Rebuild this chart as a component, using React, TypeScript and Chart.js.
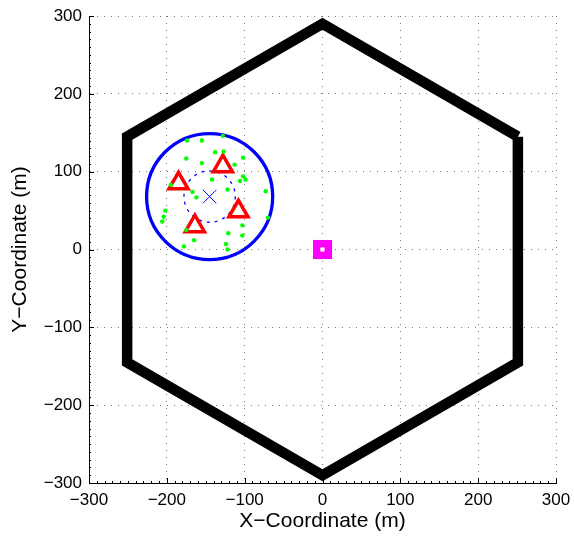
import React, { useEffect, useRef } from "react";
import { Chart, registerables } from "chart.js";

Chart.register(...registerables);

// ---- data ----
const xTickValues = [-300, -200, -100, 0, 100, 200, 300];
const yTickValues = [-300, -200, -100, 0, 100, 200, 300];

const hexagonX = [251, 0, -251, -251, 0, 251, 251];
const hexagonY = [145, 290, 145, -145, -290, -145, 145];

const clusterCenterX = [-145];
const clusterCenterY = [68];
const clusterRadius = 81;
const innerRadius = 33;

const relayX = [-128, -185, -108, -164];
const relayY = [107, 85, 49, 30];

const userX = [
  -174, -155, -128, -138, -127, -175, -155, -102, -113, -142, -106, -102, -99, -195, -167,
  -162, -122, -73, -202, -204, -206, -70, -103, -175, -165, -121, -103, -178, -124, -122,
];
const userY = [
  140, 140, 146, 125, 126, 117, 111, 118, 109, 90, 88, 94, 90, 83, 74,
  67, 77, 75, 50, 42, 36, 41, 31, 25, 12, 21, 18, 4, 7, 0,
];

const baseStationX = [0];
const baseStationY = [0];

const FONT = "'Liberation Sans', Arial, Helvetica, sans-serif";

const toPts = (xs: number[], ys: number[]) => xs.map((x, i) => ({ x, y: ys[i] }));
const fmt = (v: number) => (v < 0 ? "\u2212" + Math.abs(v) : String(v));

const radiusFromScale = (r: number) => (ctx: any) => {
  const s = ctx.chart.scales.x;
  if (!s) return 0;
  return Math.abs(s.getPixelForValue(r) - s.getPixelForValue(0));
};

const dashPlugin = {
  id: "dashPoints",
  beforeDatasetDraw(chart: any, args: any) {
    const ds = chart.data.datasets[args.index];
    if (ds && ds.pointDash) {
      chart.ctx.save();
      chart.ctx.setLineDash(ds.pointDash);
    }
  },
  afterDatasetDraw(chart: any, args: any) {
    const ds = chart.data.datasets[args.index];
    if (ds && ds.pointDash) chart.ctx.restore();
  },
};

const inwardTicksPlugin = {
  id: "inwardTicks",
  afterDraw(chart: any) {
    const { ctx, chartArea: a } = chart;
    const xs = chart.scales.x;
    const ys = chart.scales.y;
    ctx.save();
    ctx.strokeStyle = "#000";
    ctx.lineWidth = 1;
    ctx.beginPath();
    for (let v = xs.min; v <= xs.max; v += 10) {
      const major = v % 100 === 0;
      const len = major ? 5 : 2;
      const px = Math.round(xs.getPixelForValue(v)) + 0.5;
      ctx.moveTo(px, a.bottom);
      ctx.lineTo(px, a.bottom - len);
    }
    for (let v = ys.min; v <= ys.max; v += 10) {
      const major = v % 100 === 0;
      const len = major ? 5 : 2;
      const py = Math.round(ys.getPixelForValue(v)) + 0.5;
      ctx.moveTo(a.left, py);
      ctx.lineTo(a.left + len, py);
    }
    ctx.stroke();
    ctx.restore();
  },
};

export default function App() {
  const ref = useRef<HTMLCanvasElement>(null);

  useEffect(() => {
    document.body.style.margin = "0";
    const canvas = ref.current!;
    const chart = new Chart(canvas, {
      type: "scatter",
      data: {
        datasets: [
          {
            label: "hexagon",
            data: toPts(hexagonX, hexagonY),
            showLine: true,
            borderColor: "#000",
            borderWidth: 10.5,
            pointRadius: 0,
            borderCapStyle: "butt",
            borderJoinStyle: "miter",
            order: 9,
            clip: false,
          } as any,
          {
            label: "cluster",
            data: toPts(clusterCenterX, clusterCenterY),
            pointStyle: "circle",
            pointRadius: radiusFromScale(clusterRadius),
            borderColor: "#0000ff",
            backgroundColor: "rgba(0,0,0,0)",
            borderWidth: 3.3,
            order: 8,
            clip: false,
          } as any,
          {
            label: "inner",
            data: toPts(clusterCenterX, clusterCenterY),
            pointStyle: "circle",
            pointRadius: radiusFromScale(innerRadius),
            borderColor: "#0000ff",
            backgroundColor: "rgba(0,0,0,0)",
            borderWidth: 1.3,
            pointDash: [3, 5],
            order: 7,
          } as any,
          {
            label: "center",
            data: toPts(clusterCenterX, clusterCenterY),
            pointStyle: "crossRot",
            pointRadius: 9.5,
            borderColor: "#0000ff",
            borderWidth: 1,
            order: 6,
          },
          {
            label: "relays",
            data: toPts(relayX, relayY),
            pointStyle: "triangle",
            pointRadius: 11,
            borderColor: "#ff0000",
            backgroundColor: "rgba(0,0,0,0)",
            borderWidth: 3.5,
            order: 5,
          },
          {
            label: "users",
            data: toPts(userX, userY),
            pointStyle: "circle",
            pointRadius: 2.2,
            borderWidth: 0,
            backgroundColor: "#00ff00",
            borderColor: "#00ff00",
            order: 4,
          },
          {
            label: "bs",
            data: toPts(baseStationX, baseStationY),
            pointStyle: "rect",
            pointRadius: 13.5,
            borderWidth: 0,
            backgroundColor: "#ff00ff",
            borderColor: "#ff00ff",
            order: 3,
          },
          {
            label: "bsDot",
            data: toPts(baseStationX, baseStationY),
            pointStyle: "rect",
            pointRadius: 3,
            borderWidth: 0,
            backgroundColor: "#ffffff",
            order: 2,
          },
        ],
      },
      options: {
        animation: false,
        responsive: false,
        maintainAspectRatio: false,
        events: [],
        layout: { padding: { top: 16, right: 18, left: 0, bottom: 0 } },
        plugins: { legend: { display: false }, tooltip: { enabled: false } },
        scales: {
          x: {
            type: "linear",
            min: -300,
            max: 300,
            afterBuildTicks: (s: any) => {
              s.ticks = xTickValues.map((v) => ({ value: v }));
            },
            afterFit: (s: any) => {
              s.height = 53;
              s.paddingLeft = 0;
              s.paddingRight = 0;
            },
            grid: { color: "#7a7a7a", lineWidth: 1, drawTicks: false },
            border: { display: true, color: "#000", width: 1, dash: [1, 6] },
            ticks: {
              padding: 7,
              color: "#000",
              font: { family: FONT, size: 17 },
              maxRotation: 0,
              callback: (v: any) => fmt(Number(v)),
            },
            title: {
              display: true,
              text: "X\u2212Coordinate (m)",
              color: "#000",
              font: { family: FONT, size: 21 },
              padding: { top: 0, bottom: 2 },
            },
          },
          y: {
            type: "linear",
            min: -300,
            max: 300,
            afterBuildTicks: (s: any) => {
              s.ticks = yTickValues.map((v) => ({ value: v }));
            },
            afterFit: (s: any) => {
              s.width = 89;
              s.paddingTop = 0;
              s.paddingBottom = 0;
            },
            grid: { color: "#7a7a7a", lineWidth: 1, drawTicks: false },
            border: { display: true, color: "#000", width: 1, dash: [1, 6] },
            ticks: {
              padding: 7,
              color: "#000",
              font: { family: FONT, size: 17 },
              callback: (v: any) => fmt(Number(v)),
            },
            title: {
              display: true,
              text: "Y\u2212Coordinate (m)",
              color: "#000",
              font: { family: FONT, size: 21 },
              padding: { top: 8, bottom: 0 },
            },
          },
        },
      } as any,
      plugins: [dashPlugin, inwardTicksPlugin],
    });
    return () => chart.destroy();
  }, []);

  return (
    <div style={{ position: "relative", width: 574, height: 536, background: "#fff" }}>
      <canvas ref={ref} width={574} height={536} style={{ width: 574, height: 536, display: "block" }} />
    </div>
  );
}
